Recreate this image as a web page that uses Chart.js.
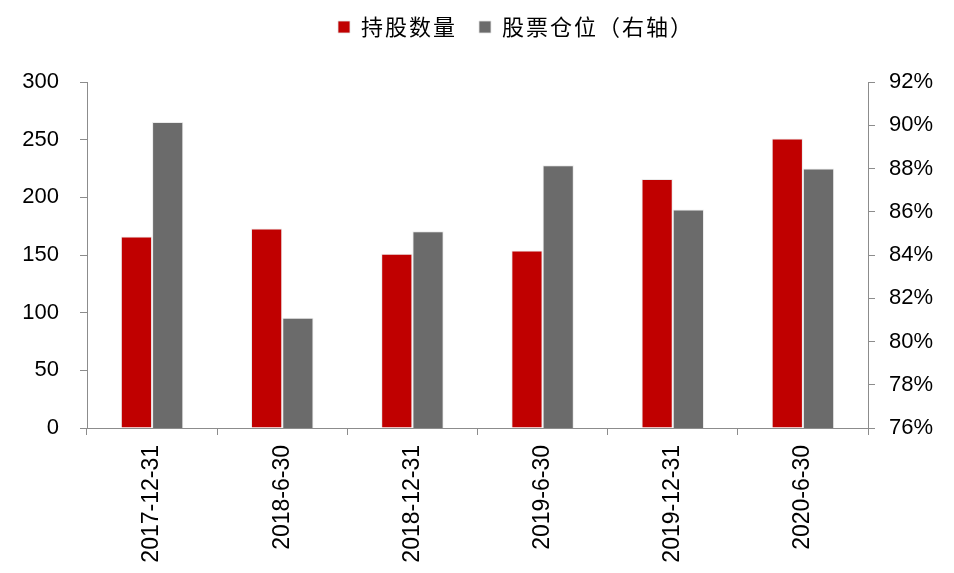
<!DOCTYPE html>
<html>
<head>
<meta charset="utf-8">
<script src="https://cdn.jsdelivr.net/npm/chart.js@4.4.0/dist/chart.umd.min.js"></script>
<style>
  html, body { margin: 0; padding: 0; background: #fff; }
</style>
</head>
<body>
<canvas id="holdingChart" width="954" height="573"></canvas>
<script>
"use strict";

const categories = ["2017-12-31", "2018-6-30", "2018-12-31", "2019-6-30", "2019-12-31", "2020-6-30"];
const holdingCount = [166, 173, 151, 154, 216, 251];       // 持股数量 (left axis)
const stockPosition = [90.15, 81.1, 85.1, 88.15, 86.1, 88.0]; // 股票仓位 % (right axis)
const seriesNames = ["持股数量", "股票仓位（右轴）"];
const leftAxisRange = [0, 300, 50];
const rightAxisRange = [76, 92, 2];

const ctx = document.getElementById("holdingChart");
const axisGray = "#8c8c8c";
const tickFont = { family: "'Liberation Sans', Arial, sans-serif", size: 22 };

// legend: fixed height above the plot, slight letter spacing, shifted like the original
const legendTweak = {
  id: "legendTweak",
  beforeLayout(chart) {
    const lg = chart.legend;
    if (!lg || lg._tweaked) return;
    lg._tweaked = true;
    const fit = lg.fit;
    const draw = lg.draw;
    lg.fit = function () {
      this.ctx.save();
      this.ctx.letterSpacing = "2px";
      fit.call(this);
      this.ctx.restore();
      this.height = 82;
    };
    lg.draw = function () {
      this.ctx.save();
      this.ctx.letterSpacing = "2px";
      draw.call(this);
      this.ctx.restore();
    };
  },
  afterLayout(chart) {
    const lg = chart.legend;
    if (lg) {
      lg.left += 39; lg.right += 39;
      lg.top -= 6; lg.bottom -= 6;
    }
  },
};

new Chart(ctx, {
  type: "bar",
  data: {
    labels: categories,
    datasets: [
      {
        label: seriesNames[0],
        data: holdingCount,
        yAxisID: "y",
        backgroundColor: "#C00000",
        borderColor: "rgba(230,230,230,0.8)",
        borderWidth: 1,
      },
      {
        label: seriesNames[1],
        data: stockPosition,
        yAxisID: "y1",
        backgroundColor: "#6B6B6B",
        borderColor: "rgba(230,230,230,0.8)",
        borderWidth: 1,
      },
    ],
  },
  plugins: [legendTweak],
  options: {
    responsive: false,
    animation: false,
    layout: { padding: 0 },
    datasets: {
      bar: { categoryPercentage: 0.48, barPercentage: 1.0 },
    },
    plugins: {
      tooltip: { enabled: false },
      legend: {
        position: "top",
        labels: {
          boxWidth: 12,
          boxHeight: 12,
          padding: 22,
          color: "#000",
          font: { family: "'Noto Sans CJK SC', sans-serif", size: 22 },
        },
      },
    },
    scales: {
      x: {
        grid: {
          display: true,
          drawOnChartArea: false,
          offset: true,
          tickLength: 7,
          color: axisGray,
        },
        border: { color: axisGray },
        ticks: {
          minRotation: 90,
          maxRotation: 90,
          padding: 10,
          color: "#000",
          font: { family: tickFont.family, size: 23 },
        },
        afterFit: (scale) => { scale.height = 145; },
      },
      y: {
        position: "left",
        min: leftAxisRange[0],
        max: leftAxisRange[1],
        grid: { drawOnChartArea: false, tickLength: 7, color: axisGray },
        border: { color: axisGray },
        ticks: { stepSize: leftAxisRange[2], padding: 21, color: "#000", font: tickFont },
        afterFit: (scale) => { scale.width = 87; },
      },
      y1: {
        position: "right",
        min: rightAxisRange[0],
        max: rightAxisRange[1],
        grid: { drawOnChartArea: false, tickLength: 7, color: axisGray },
        border: { color: axisGray },
        ticks: {
          stepSize: rightAxisRange[2],
          padding: 14,
          color: "#000",
          font: tickFont,
          callback: (value) => value + "%",
        },
        afterFit: (scale) => { scale.width = 86; },
      },
    },
  },
});
</script>
</body>
</html>
